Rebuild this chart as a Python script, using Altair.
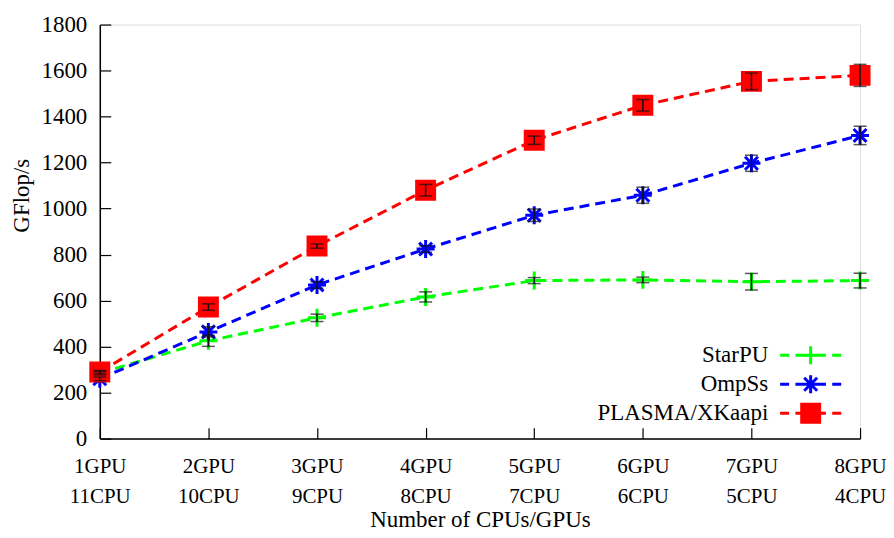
import altair as alt
import pandas as pd

categories = ["1GPU 11CPU", "2GPU 10CPU", "3GPU 9CPU", "4GPU 8CPU",
              "5GPU 7CPU", "6GPU 6CPU", "7GPU 5CPU", "8GPU 4CPU"]
series_names = ["StarPU", "OmpSs", "PLASMA/XKaapi"]
series_colors = ["#00ff00", "#0000ff", "#ff0000"]

starpu = [285, 425, 525, 616, 687, 690, 682, 687]
starpu_err = [8, 24, 16, 22, 13, 12, 36, 32]
ompss = [260, 464, 668, 824, 971, 1058, 1197, 1318]
ompss_err = [8, 22, 14, 14, 27, 35, 35, 40]
plasma = [290, 572, 837, 1080, 1297, 1449, 1553, 1579]
plasma_err = [6, 14, 9, 25, 18, 25, 36, 48]

y_ticks = [0, 200, 400, 600, 800, 1000, 1200, 1400, 1600, 1800]

# marker paths (unit box -1..1)
plus_path = "M-1,0H1M0,-1V1"
star_path = "M-1,0H1M0,-1V1M-0.72,-0.72L0.72,0.72M-0.72,0.72L0.72,-0.72"
square_path = "M-1,-1H1V1H-1Z"
marker_paths = [plus_path, star_path, square_path]
dash_left = "M-3.4,0H-2.4"
dash_mid = "M-1.7,0H1.7"
dash_right = "M2.4,0H3.4"
legend_paths = [dash_left + dash_mid + p + dash_right for p in marker_paths]

rows = []
for name, vals, errs, mp in zip(series_names, [starpu, ompss, plasma],
                                [starpu_err, ompss_err, plasma_err], marker_paths):
    for cat, v, e in zip(categories, vals, errs):
        rows.append({"cat": cat, "series": name, "value": v,
                     "lo": v - e, "hi": v + e, "marker": mp})
df = pd.DataFrame(rows)

font = "Liberation Serif"
fs = 23

x_enc = alt.X("cat:N", sort=categories, scale=alt.Scale(type="point", padding=0),
              axis=alt.Axis(title="Number of CPUs/GPUs", labelAngle=0,
                            labelExpr="split(datum.label, ' ')",
                            labelLineHeight=30, labelPadding=28,
                            tickSize={"expr": "-11"}, tickColor="#000",
                            tickWidth=1.2, domainColor="#000", domainWidth=1.5,
                            labelFont=font, labelFontSize=21, labelColor="#000",
                            titleFont=font, titleFontSize=fs, titleFontWeight="normal",
                            titleColor="#000", titlePadding=2))
y_scale = alt.Scale(domain=[0, 1800], nice=False)
y_axis = alt.Axis(title="GFlop/s", values=y_ticks, grid=False, format="d",
                  tickSize={"expr": "-11"}, tickColor="#000", tickWidth=1.2,
                  domainColor="#000", domainWidth=1.5, labelPadding=24,
                  labelFont=font, labelFontSize=fs, labelColor="#000",
                  titleFont=font, titleFontSize=fs, titleFontWeight="normal",
                  titleColor="#000", titleX=-78, titleY=171,
                  titleAlign="center", titleBaseline="middle", titleAngle=270)

color_scale = alt.Scale(domain=series_names, range=series_colors)
shape_scale = alt.Scale(domain=series_names, range=legend_paths)

legend = alt.Legend(title=None, orient="none", legendX=701, legendY=320,
                    labelAlign="right", labelOffset={"expr": "-54"}, labelFont=font,
                    labelFontSize=fs, labelColor="#000", labelLimit=400,
                    symbolSize=324, symbolStrokeWidth=3,
                    rowPadding={"expr": "-2"}, padding=0)

base = alt.Chart(df)

# legend-only layer (no marks drawn); first so its legend settings win the merge
legend_layer = base.transform_filter("false").mark_point(
    filled=True, size=324, strokeWidth=3, opacity=1).encode(
    color=alt.Color("series:N", scale=color_scale, legend=legend),
    stroke=alt.Stroke("series:N", scale=color_scale, legend=legend),
    shape=alt.Shape("series:N", scale=shape_scale, legend=legend),
)

lines = base.mark_line(strokeDash=[10, 6], strokeWidth=3).encode(
    x=x_enc,
    y=alt.Y("value:Q", scale=y_scale, axis=y_axis),
    color=alt.Color("series:N", scale=color_scale, legend=None),
    detail="series:N",
)

points = base.mark_point(filled=True, size=324, strokeWidth=3, opacity=1).encode(
    x=alt.X("cat:N", sort=categories),
    y=alt.Y("value:Q"),
    color=alt.Color("series:N", scale=color_scale, legend=None),
    stroke=alt.Stroke("series:N", scale=color_scale, legend=None),
    shape=alt.Shape("marker:N", scale=None),
)

err_rules = base.mark_rule(color="#111", strokeWidth=1.5).encode(
    x=alt.X("cat:N", sort=categories),
    y=alt.Y("lo:Q"),
    y2="hi:Q",
)
caps_lo = base.mark_tick(color="#111", size=13, thickness=1.5, orient="horizontal").encode(
    x=alt.X("cat:N", sort=categories),
    y=alt.Y("lo:Q"),
)
caps_hi = base.mark_tick(color="#111", size=13, thickness=1.5, orient="horizontal").encode(
    x=alt.X("cat:N", sort=categories),
    y=alt.Y("hi:Q"),
)

chart = alt.layer(legend_layer, lines, points, err_rules, caps_lo, caps_hi).properties(
    width=762, height=415,
    autosize=alt.AutoSizeParams(type="none"),
    padding={"left": 92, "top": 16, "right": 26, "bottom": 91},
).configure_view(stroke=None).configure(background="white")

chart.save("out.html", embed_options={"renderer": "svg", "actions": False})
